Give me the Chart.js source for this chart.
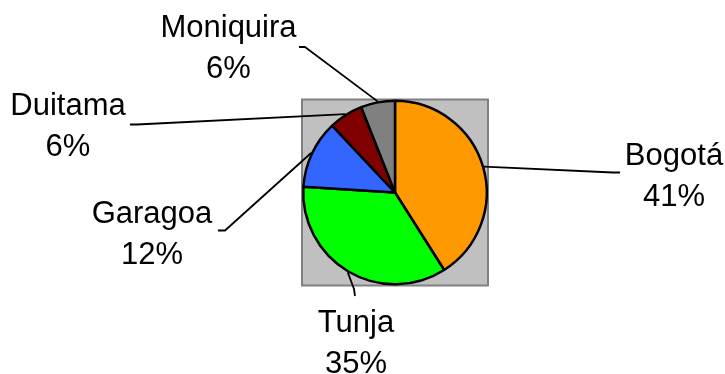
<!DOCTYPE html>
<html>
<head>
<meta charset="utf-8">
<script src="https://cdn.jsdelivr.net/npm/chart.js@4/dist/chart.umd.min.js"></script>
<style>
  html, body { margin: 0; padding: 0; background: #ffffff; }
  #wrap { width: 725px; height: 374px; }
</style>
</head>
<body>
<div id="wrap"><canvas id="chart" width="725" height="374"></canvas></div>
<script>
// Share of each city
const cities = ['Bogotá', 'Tunja', 'Garagoa', 'Duitama', 'Moniquira'];
const shares = [41, 35, 12, 6, 6];
const sliceColors = ['#FF9900', '#00FF00', '#3366FF', '#800000', '#808080'];

// Where each two-line label sits (centre x, first baseline) and the bend of its leader line
const labelLayout = {
  'Bogotá':    { x: 674, y: 165, path: [[613, 172.5], [620, 172.5]] },
  'Tunja':     { x: 356, y: 331.5, path: [[354, 289], [355, 296]] },
  'Garagoa':   { x: 152, y: 223, path: [[225, 230.5], [218, 230.5]] },
  'Duitama':   { x: 68,  y: 114.5, path: [[137, 124.5], [130, 124.5]] },
  'Moniquira': { x: 228.5, y: 36.5, path: [[305, 47], [299, 47]] }
};
const LINE_PITCH = 41;

// Grey square behind the pie
const plotBackdrop = {
  id: 'plotBackdrop',
  beforeDatasetsDraw(chart) {
    const { ctx, chartArea: a } = chart;
    ctx.save();
    ctx.fillStyle = '#C0C0C0';
    ctx.fillRect(a.left, a.top, a.right - a.left, a.bottom - a.top);
    ctx.strokeStyle = '#808080';
    ctx.lineWidth = 2;
    ctx.strokeRect(a.left, a.top, a.right - a.left, a.bottom - a.top);
    ctx.restore();
  }
};

// Outside labels with leader lines from the middle of each slice's rim
const outsideLabels = {
  id: 'outsideLabels',
  afterDatasetsDraw(chart) {
    const { ctx } = chart;
    const meta = chart.getDatasetMeta(0);
    const total = shares.reduce((s, v) => s + v, 0);
    ctx.save();
    meta.data.forEach((arc, i) => {
      const name = cities[i];
      const lay = labelLayout[name];
      const p = arc.getProps(['x', 'y', 'startAngle', 'endAngle', 'outerRadius'], true);
      const mid = (p.startAngle + p.endAngle) / 2;
      const r = p.outerRadius + 1;
      const sx = p.x + Math.cos(mid) * r;
      const sy = p.y + Math.sin(mid) * r;
      ctx.beginPath();
      ctx.moveTo(sx, sy);
      lay.path.forEach(([px, py]) => ctx.lineTo(px, py));
      ctx.strokeStyle = '#000000';
      ctx.lineWidth = 1.8;
      ctx.lineJoin = 'round';
      ctx.stroke();

      ctx.fillStyle = '#000000';
      ctx.font = '31px "Liberation Sans", Arial, sans-serif';
      ctx.textAlign = 'center';
      ctx.textBaseline = 'alphabetic';
      const pct = Math.round(shares[i] / total * 100) + '%';
      ctx.fillText(name, lay.x, lay.y);
      ctx.fillText(pct, lay.x, lay.y + LINE_PITCH);
    });
    ctx.restore();
  }
};

new Chart(document.getElementById('chart'), {
  type: 'pie',
  data: {
    labels: cities,
    datasets: [{
      data: shares,
      backgroundColor: sliceColors,
      borderColor: '#000000',
      borderWidth: 2.5
    }]
  },
  options: {
    responsive: false,
    animation: false,
    layout: { padding: { left: 302, right: 237, top: 99.5, bottom: 88.5 } },
    plugins: {
      legend: { display: false },
      tooltip: { enabled: false }
    }
  },
  plugins: [plotBackdrop, outsideLabels]
});
</script>
</body>
</html>
